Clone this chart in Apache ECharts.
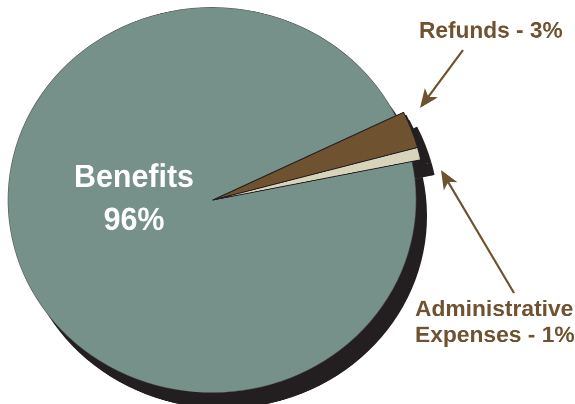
<!DOCTYPE html>
<html><head><meta charset="utf-8">
<style>html,body{margin:0;padding:0;background:#fff;overflow:hidden}
#wrap{width:575px;height:404px;overflow:hidden}
#c{width:575px;height:428px;transform:scaleY(0.944);transform-origin:0 0}</style>
<script src="https://cdn.jsdelivr.net/npm/echarts@6/dist/echarts.min.js"></script>
</head><body><div id="wrap"><div id="c"></div></div>
<script>
const categories = ['Refunds', 'Administrative Expenses', 'Benefits'];
const values = [3, 1, 96];
const colors = ['#6f5230', '#d8d3bb', '#76908a'];
const darkColor = '#231f20';
const SY = 0.944; // the reference pie is slightly flattened
const Y = y => y / SY;
const chart = echarts.init(document.getElementById('c'), null, {renderer:'canvas', devicePixelRatio:2});
const txt = (x,y,t,size,color,align,sx)=>({type:'text',x,y:Y(y),z:20,scaleX:sx||1,scaleY:1/SY,
  style:{x:0,y:0,text:t,font:'bold '+size+'px "Liberation Sans"',fill:color,align:align||'left',verticalAlign:'middle'}});
const arrow = (x1,y1,x2,y2)=>{
  const a=Math.atan2(y2-y1,x2-x1),L=19,W=8,B=14;
  const bx=x2-Math.cos(a)*L,by=y2-Math.sin(a)*L,nx=-Math.sin(a),ny=Math.cos(a);
  const mx=x2-Math.cos(a)*B,my=y2-Math.sin(a)*B;
  return [{type:'line',z:20,shape:{x1,y1:Y(y1),x2:mx,y2:Y(my)},style:{stroke:colors[0],lineWidth:2.2}},
    {type:'polygon',z:20,shape:{points:[[x2,Y(y2)],[bx+nx*W,Y(by+ny*W)],[mx,Y(my)],[bx-nx*W,Y(by-ny*W)]]},style:{fill:colors[0]}}];
};
const pie=(name,c,r,z,styleOf)=>({type:'pie',name,center:c,radius:[0,r],startAngle:26,clockwise:true,z,silent:true,animation:false,
  label:{show:false},labelLine:{show:false},
  data:values.map((v,i)=>({value:v,name:categories[i],itemStyle:styleOf(i)}))});
const none={color:'rgba(0,0,0,0)',borderWidth:0};
chart.setOption({
  animation:false,
  series:[
    pie('shadow',[223,Y(216)],204,1,i=>i==2?{color:darkColor,borderWidth:0}:none),
    pie('wedgeShadow',[223,Y(216)],216,1,i=>i<2?{color:darkColor,borderWidth:0}:none),
    pie('wedgeShadowMid',[218,Y(208)],213,1,i=>i<2?{color:darkColor,borderWidth:0}:none),
    pie('wedgeShadowNear',[215,Y(203)],213,1,i=>i<2?{color:darkColor,borderWidth:0}:none),
    pie('main',[212,Y(200)],204,2,i=>i==2?{color:colors[2],borderWidth:0.6,borderColor:'#555'}:none),
    pie('wedge',[213,Y(200)],212,3,i=>i<2?{color:colors[i],borderWidth:1,borderColor:darkColor}:none)
  ],
  graphic:[
    txt(134,178,'Benefits',32,'#ffffff','center',0.95),
    txt(134,221,'96%',32,'#ffffff','center',0.95),
    txt(419,31.5,'Refunds - 3%',22.7,colors[0]),
    txt(415,310,'Administrative',22.8,colors[0]),
    txt(415,336,'Expenses - 1%',22.8,colors[0]),
    ...arrow(463,50,420,108),
    ...arrow(514,293,441,170)
  ]
});
</script></body></html>
